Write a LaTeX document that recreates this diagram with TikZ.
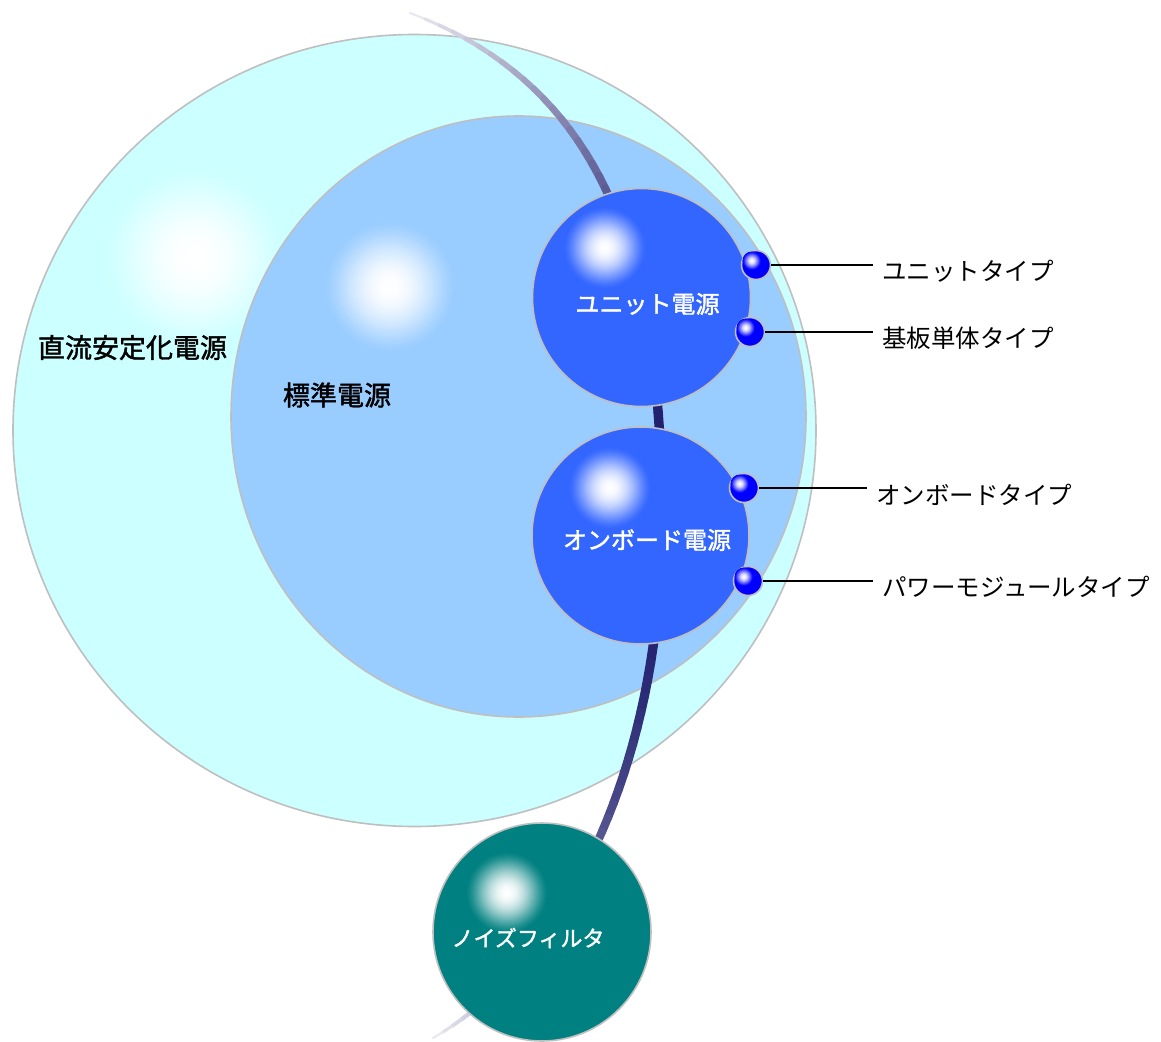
\documentclass[tikz,border=0pt]{standalone}
\usepackage{fontspec}
\newfontfamily\jp{Noto Sans CJK JP}
\newfontfamily\jpb[FakeBold=1.6]{Noto Sans CJK JP}
\definecolor{bigc}{HTML}{CCFFFF}
\definecolor{midc}{HTML}{99CCFF}
\definecolor{subc}{HTML}{3366FF}
\definecolor{noisec}{HTML}{008080}
\definecolor{ballc}{HTML}{0000FF}
\definecolor{edgec}{HTML}{BFBFBF}
\definecolor{arcdark}{HTML}{1C1C6C}
\definecolor{arclight}{HTML}{ECECF2}
\newcommand\myglow[4]{%
  \foreach \k in {0,...,40}{%
    \pgfmathsetmacro\rr{#3*(1-\k/40)}%
    \pgfmathsetmacro\ff{100*(1-(1-\k/40)^2)^1.6}%
    \fill[white!\ff!#4] (#1,#2) circle (\rr pt);
  }}
\begin{document}
\begin{tikzpicture}[x=1pt,y=-1pt,
  edge/.style={draw=edgec, line width=1.6pt},
  circtxt/.style={font=\jpb\fontsize{24}{28}\selectfont, text=white, inner sep=0pt},
  outtxt/.style={font=\jpb\fontsize{27}{30}\selectfont, text=black, inner sep=0pt},
  typetxt/.style={font=\jp\fontsize{24.5}{28}\selectfont, text=black, inner sep=0pt, anchor=west},
  ball/.style={circle, inner sep=0pt, minimum size=29pt, fill=ballc, draw=edgec, line width=1.6pt},
  lead/.style={line width=2pt, black}]
\useasboundingbox (0,0) rectangle (1161,1041);
\fill[white] (0,0) rectangle (1161,1041);
% outer circle
\fill[bigc] (414.5,430.5) ellipse (401.5pt and 396pt);
\myglow{195}{258}{95}{bigc}
\draw[edge] (414.5,430.5) ellipse (401.5pt and 396pt);
% middle circle
\fill[midc] (518.5,416.5) ellipse (287.5pt and 300.5pt);
\myglow{390}{287}{68}{midc}
\draw[edge] (518.5,416.5) ellipse (287.5pt and 300.5pt);
% gradient arc, top half
\foreach \i in {0,...,39}{%
  \pgfmathsetmacro\ta{\i/40}%
  \pgfmathsetmacro\tb{(\i+1)/40}%
  \pgfmathsetmacro\xa{(1-\ta)^3*410+3*(1-\ta)^2*\ta*610+3*(1-\ta)*\ta^2*662+\ta^3*662}%
  \pgfmathsetmacro\ya{(1-\ta)^3*13+3*(1-\ta)^2*\ta*88+3*(1-\ta)*\ta^2*270+\ta^3*520}%
  \pgfmathsetmacro\xb{(1-\tb)^3*410+3*(1-\tb)^2*\tb*610+3*(1-\tb)*\tb^2*662+\tb^3*662}%
  \pgfmathsetmacro\yb{(1-\tb)^3*13+3*(1-\tb)^2*\tb*88+3*(1-\tb)*\tb^2*270+\tb^3*520}%
  \pgfmathsetmacro\ss{sin(90*(\i+0.5)/40)}%
  \pgfmathsetmacro\cc{100*\ss}%
  \pgfmathsetmacro\ww{1+8.5*\ss^0.5}%
  \draw[line width=\ww pt, arcdark!\cc!arclight, line cap=round] (\xa,\ya) -- (\xb,\yb);
}
% gradient arc, bottom half
\foreach \i in {0,...,39}{%
  \pgfmathsetmacro\ta{\i/40}%
  \pgfmathsetmacro\tb{(\i+1)/40}%
  \pgfmathsetmacro\xa{(1-\ta)^3*662+3*(1-\ta)^2*\ta*662+3*(1-\ta)*\ta^2*562.5+\ta^3*433}%
  \pgfmathsetmacro\ya{(1-\ta)^3*520+3*(1-\ta)^2*\ta*770+3*(1-\ta)*\ta^2*964.5+\ta^3*1038}%
  \pgfmathsetmacro\xb{(1-\tb)^3*662+3*(1-\tb)^2*\tb*662+3*(1-\tb)*\tb^2*562.5+\tb^3*433}%
  \pgfmathsetmacro\yb{(1-\tb)^3*520+3*(1-\tb)^2*\tb*770+3*(1-\tb)*\tb^2*964.5+\tb^3*1038}%
  \pgfmathsetmacro\ss{cos(90*(\i+0.5)/40)}%
  \pgfmathsetmacro\cc{100*\ss}%
  \pgfmathsetmacro\ww{1+8.5*\ss^0.5}%
  \draw[line width=\ww pt, arcdark!\cc!arclight, line cap=round] (\xa,\ya) -- (\xb,\yb);
}
% unit circle
\fill[subc] (641.5,297.5) circle (109pt);
\myglow{605}{248}{42}{subc}
\draw[edge] (641.5,297.5) circle (109pt);
% onboard circle
\fill[subc] (640.5,535.5) circle (108.5pt);
\myglow{610}{488}{42}{subc}
\draw[edge] (640.5,535.5) circle (108.5pt);
% noise filter circle
\fill[noisec] (542,932) circle (109pt);
\myglow{507}{893}{42}{noisec}
\draw[edge] (542,932) circle (109pt);
% balls
\node[ball] (b1) at (756,265) {};
\node[ball] (b2) at (750,332) {};
\node[ball] (b3) at (744,488) {};
\node[ball] (b4) at (748,581) {};
\myglow{752}{261}{9.5}{ballc}
\myglow{746}{328}{9.5}{ballc}
\myglow{740}{484}{9.5}{ballc}
\myglow{744}{577}{9.5}{ballc}
% leads
\coordinate (e1) at (873,265);
\coordinate (e2) at (873,332);
\coordinate (e3) at (867,488);
\coordinate (e4) at (873,581);
\draw[lead] (b1) -- (e1);
\draw[lead] (b2) -- (e2);
\draw[lead] (b3) -- (e3);
\draw[lead] (b4) -- (e4);
% labels
\node[outtxt] (t1) at (132.5,347.5) {直流安定化電源};
\node[outtxt] (t2) at (337,395) {標準電源};
\node[circtxt] (t3) at (647.5,304) {ユニット電源};
\node[circtxt] (t4) at (647,540) {オンボード電源};
\node[circtxt,font=\jpb\fontsize{22}{26}\selectfont] (t5) at (528,938) {ノイズフィルタ};
\node[typetxt] (l1) at (882,271) {ユニットタイプ};
\node[typetxt] (l2) at (882,338) {基板単体タイプ};
\node[typetxt] (l3) at (876,495) {オンボードタイプ};
\node[typetxt] (l4) at (882,587) {パワーモジュールタイプ};
\end{tikzpicture}
\end{document}
